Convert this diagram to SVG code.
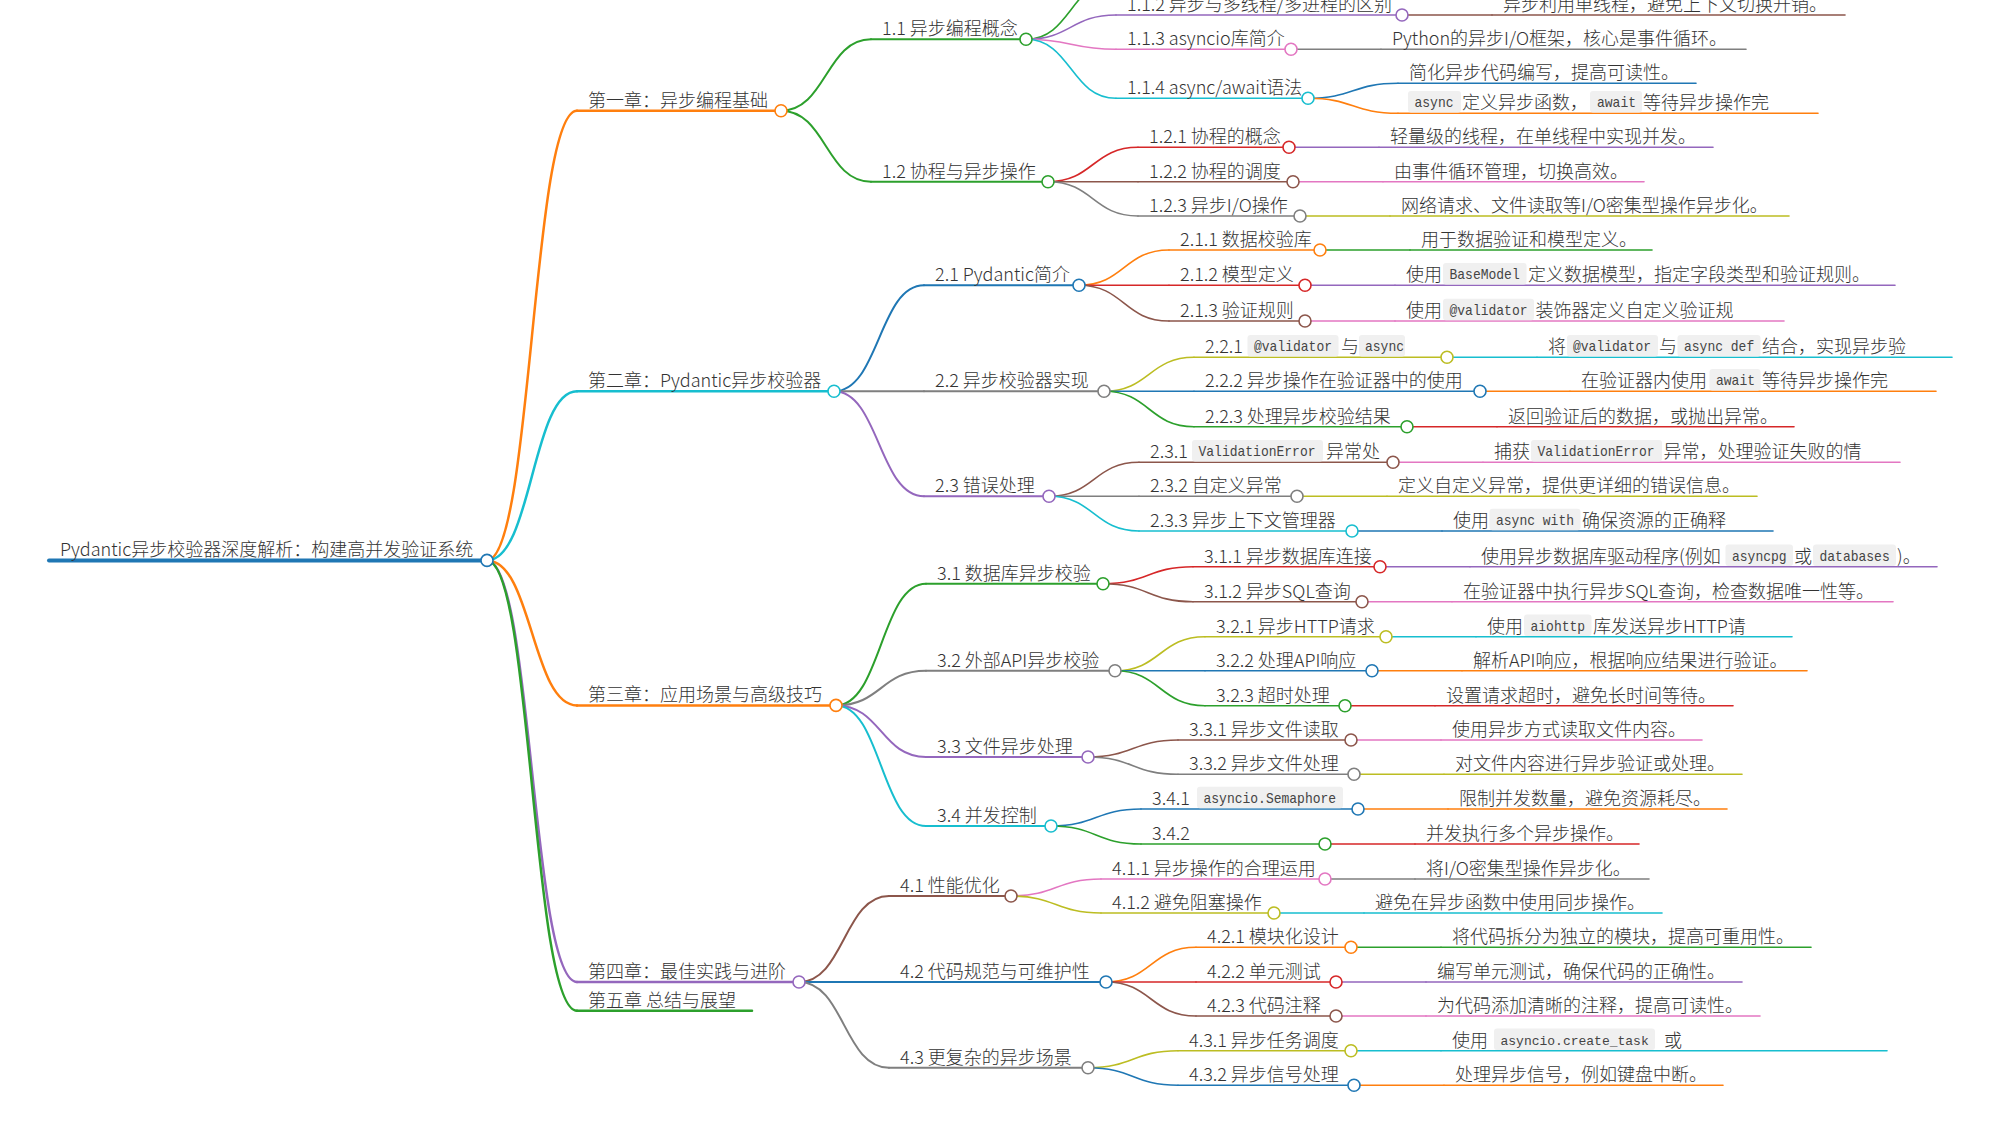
<svg xmlns="http://www.w3.org/2000/svg" width="2000" height="1125" viewBox="0 0 2000 1125">
<style>
.ln{fill:none;stroke-linecap:round}
.d0{stroke-width:4}.d1{stroke-width:2.5}.d2{stroke-width:2}.d3{stroke-width:1.6}.d4{stroke-width:1.6}
.kb{stroke:#1f77b4}.ko{stroke:#ff7f0e}.kg{stroke:#2ca02c}.kr{stroke:#d62728}.kp{stroke:#9467bd}
.kn{stroke:#8c564b}.kk{stroke:#e377c2}.ky{stroke:#7f7f7f}.kl{stroke:#bcbd22}.kc{stroke:#17becf}
.dot{fill:#fff;stroke-width:1.6}
text{font-family:"Noto Sans CJK SC","Noto Sans",sans-serif;font-size:18px;font-weight:300;fill:#333}
text.code{font-family:"Liberation Mono",monospace;font-size:15px;font-weight:400;fill:#444}
text.code.sm{font-size:13px}
.cb{fill:#f0f0f0}
</style>
<rect width="2000" height="1125" fill="#fff"/>
<g id="connectors">
<path class="ln d1 ko" d="M487,560.4C532,560.4 532,110.7 577,110.7"/>
<path class="ln d1 kc" d="M487,560.4C532,560.4 532,391.3 577,391.3"/>
<path class="ln d1 ko" d="M487,560.4C532,560.4 532,705.4 577,705.4"/>
<path class="ln d1 kp" d="M487,560.4C532,560.4 532,982 577,982"/>
<path class="ln d1 kg" d="M487,560.4C532,560.4 532,1010.7 577,1010.7"/>
<path class="ln d2 kg" d="M781,110.7C826,110.7 826,39.3 871,39.3"/>
<path class="ln d2 kg" d="M781,110.7C826,110.7 826,181.7 871,181.7"/>
<path class="ln d2 kb" d="M834,391.3C879,391.3 879,285.3 924,285.3"/>
<path class="ln d2 ky" d="M834,391.3H924"/>
<path class="ln d2 kp" d="M834,391.3C879,391.3 879,496.3 924,496.3"/>
<path class="ln d2 kg" d="M836,705.4C881,705.4 881,583.7 926,583.7"/>
<path class="ln d2 ky" d="M836,705.4C881,705.4 881,670.8 926,670.8"/>
<path class="ln d2 kp" d="M836,705.4C881,705.4 881,757 926,757"/>
<path class="ln d2 kc" d="M836,705.4C881,705.4 881,826 926,826"/>
<path class="ln d2 kn" d="M799,982C844,982 844,896 889,896"/>
<path class="ln d2 kb" d="M799,982H889"/>
<path class="ln d2 ky" d="M799,982C844,982 844,1067.7 889,1067.7"/>
<path class="ln d3 kg" d="M1026,39.3C1071,39.3 1071,-20 1116,-20"/>
<path class="ln d3 kp" d="M1026,39.3C1071,39.3 1071,15 1116,15"/>
<path class="ln d3 kk" d="M1026,39.3C1071,39.3 1071,49.3 1116,49.3"/>
<path class="ln d3 kc" d="M1026,39.3C1071,39.3 1071,98.3 1116,98.3"/>
<path class="ln d3 kr" d="M1048,181.7C1093,181.7 1093,147.3 1138,147.3"/>
<path class="ln d3 kn" d="M1048,181.7H1138"/>
<path class="ln d3 ky" d="M1048,181.7C1093,181.7 1093,216 1138,216"/>
<path class="ln d3 ko" d="M1079,285.3C1124,285.3 1124,250 1169,250"/>
<path class="ln d3 kr" d="M1079,285.3H1169"/>
<path class="ln d3 kn" d="M1079,285.3C1124,285.3 1124,321 1169,321"/>
<path class="ln d3 kl" d="M1104,391.3C1149,391.3 1149,357.3 1194,357.3"/>
<path class="ln d3 kb" d="M1104,391.3H1194"/>
<path class="ln d3 kg" d="M1104,391.3C1149,391.3 1149,426.7 1194,426.7"/>
<path class="ln d3 kn" d="M1049,496.3C1094,496.3 1094,462.3 1139,462.3"/>
<path class="ln d3 ky" d="M1049,496.3H1139"/>
<path class="ln d3 kc" d="M1049,496.3C1094,496.3 1094,531 1139,531"/>
<path class="ln d3 kr" d="M1103,583.7C1148,583.7 1148,566.7 1193,566.7"/>
<path class="ln d3 kn" d="M1103,583.7C1148,583.7 1148,601.7 1193,601.7"/>
<path class="ln d3 kl" d="M1115,670.8C1160,670.8 1160,636.7 1205,636.7"/>
<path class="ln d3 kb" d="M1115,670.8H1205"/>
<path class="ln d3 kg" d="M1115,670.8C1160,670.8 1160,705.7 1205,705.7"/>
<path class="ln d3 kn" d="M1088,757C1133,757 1133,740 1178,740"/>
<path class="ln d3 ky" d="M1088,757C1133,757 1133,774.3 1178,774.3"/>
<path class="ln d3 kb" d="M1051,826C1096,826 1096,809 1141,809"/>
<path class="ln d3 kg" d="M1051,826C1096,826 1096,844 1141,844"/>
<path class="ln d3 kk" d="M1011,896C1056,896 1056,879 1101,879"/>
<path class="ln d3 kl" d="M1011,896C1056,896 1056,913 1101,913"/>
<path class="ln d3 ko" d="M1106,982C1151,982 1151,947.3 1196,947.3"/>
<path class="ln d3 kr" d="M1106,982H1196"/>
<path class="ln d3 kn" d="M1106,982C1151,982 1151,1016 1196,1016"/>
<path class="ln d3 kl" d="M1088,1067.7C1133,1067.7 1133,1050.7 1178,1050.7"/>
<path class="ln d3 kb" d="M1088,1067.7C1133,1067.7 1133,1085.3 1178,1085.3"/>
<path class="ln d4 kn" d="M1402,15H1492"/>
<path class="ln d4 ky" d="M1291,49.3H1381"/>
<path class="ln d4 kb" d="M1308,98.3C1353,98.3 1353,83.3 1398,83.3"/>
<path class="ln d4 ko" d="M1308,98.3C1353,98.3 1353,113.3 1398,113.3"/>
<path class="ln d4 kp" d="M1289,147.3H1379"/>
<path class="ln d4 kk" d="M1293,181.7H1383"/>
<path class="ln d4 kl" d="M1300,216H1390"/>
<path class="ln d4 kg" d="M1320,250H1410"/>
<path class="ln d4 kp" d="M1305,285.3H1395"/>
<path class="ln d4 kk" d="M1305,321H1395"/>
<path class="ln d4 kc" d="M1447,357.3H1537"/>
<path class="ln d4 ko" d="M1480,391.3H1570"/>
<path class="ln d4 kr" d="M1407,426.7H1497"/>
<path class="ln d4 kk" d="M1393,462.3H1483"/>
<path class="ln d4 kl" d="M1297,496.3H1387"/>
<path class="ln d4 kb" d="M1352,531H1442"/>
<path class="ln d4 kp" d="M1380,566.7H1470"/>
<path class="ln d4 kk" d="M1362,601.7H1452"/>
<path class="ln d4 kc" d="M1386,636.7H1476"/>
<path class="ln d4 ko" d="M1372,670.8H1462"/>
<path class="ln d4 kr" d="M1345,705.7H1435"/>
<path class="ln d4 kk" d="M1351,740H1441"/>
<path class="ln d4 kl" d="M1354,774.3H1444"/>
<path class="ln d4 ko" d="M1358,809H1448"/>
<path class="ln d4 kr" d="M1325,844H1415"/>
<path class="ln d4 ky" d="M1325,879H1415"/>
<path class="ln d4 kc" d="M1274,913H1364"/>
<path class="ln d4 kg" d="M1351,947.3H1441"/>
<path class="ln d4 kp" d="M1336,982H1426"/>
<path class="ln d4 kk" d="M1336,1016H1426"/>
<path class="ln d4 kc" d="M1351,1050.7H1441"/>
<path class="ln d4 ko" d="M1354,1085.3H1444"/>
</g>

<g id="root"><path class="ln d0 kb" d="M49,560.4H487"/><text x="60" y="556.4">Pydantic异步校验器深度解析：构建高并发验证系统</text><circle class="dot kb" cx="487" cy="560.4" r="6"/></g>

<g id="ch1"><path class="ln d1 ko" d="M577,110.7H781"/><text x="588" y="106.7">第一章：异步编程基础</text><circle class="dot ko" cx="781" cy="110.7" r="6"/></g>
<g id="ch2"><path class="ln d1 kc" d="M577,391.3H834"/><text x="588" y="387.3">第二章：Pydantic异步校验器</text><circle class="dot kc" cx="834" cy="391.3" r="6"/></g>
<g id="ch3"><path class="ln d1 ko" d="M577,705.4H836"/><text x="588" y="701.4">第三章：应用场景与高级技巧</text><circle class="dot ko" cx="836" cy="705.4" r="6"/></g>
<g id="ch4"><path class="ln d1 kp" d="M577,982H799"/><text x="588" y="978">第四章：最佳实践与进阶</text><circle class="dot kp" cx="799" cy="982" r="6"/></g>
<g id="ch5"><path class="ln d1 kg" d="M577,1010.7H752"/><text x="588" y="1006.7">第五章 总结与展望</text></g>

<g id="s1-1"><path class="ln d2 kg" d="M871,39.3H1026"/><text x="882" y="35.3">1.1 异步编程概念</text><circle class="dot kg" cx="1026" cy="39.3" r="6"/></g>
<g id="s1-2"><path class="ln d2 kg" d="M871,181.7H1048"/><text x="882" y="177.7">1.2 协程与异步操作</text><circle class="dot kg" cx="1048" cy="181.7" r="6"/></g>
<g id="s2-1"><path class="ln d2 kb" d="M924,285.3H1079"/><text x="935" y="281.3">2.1 Pydantic简介</text><circle class="dot kb" cx="1079" cy="285.3" r="6"/></g>
<g id="s2-2"><path class="ln d2 ky" d="M924,391.3H1104"/><text x="935" y="387.3">2.2 异步校验器实现</text><circle class="dot ky" cx="1104" cy="391.3" r="6"/></g>
<g id="s2-3"><path class="ln d2 kp" d="M924,496.3H1049"/><text x="935" y="492.3">2.3 错误处理</text><circle class="dot kp" cx="1049" cy="496.3" r="6"/></g>
<g id="s3-1"><path class="ln d2 kg" d="M926,583.7H1103"/><text x="937" y="579.7">3.1 数据库异步校验</text><circle class="dot kg" cx="1103" cy="583.7" r="6"/></g>
<g id="s3-2"><path class="ln d2 ky" d="M926,670.8H1115"/><text x="937" y="666.8">3.2 外部API异步校验</text><circle class="dot ky" cx="1115" cy="670.8" r="6"/></g>
<g id="s3-3"><path class="ln d2 kp" d="M926,757H1088"/><text x="937" y="753">3.3 文件异步处理</text><circle class="dot kp" cx="1088" cy="757" r="6"/></g>
<g id="s3-4"><path class="ln d2 kc" d="M926,826H1051"/><text x="937" y="822">3.4 并发控制</text><circle class="dot kc" cx="1051" cy="826" r="6"/></g>
<g id="s4-1"><path class="ln d2 kn" d="M889,896H1011"/><text x="900" y="892">4.1 性能优化</text><circle class="dot kn" cx="1011" cy="896" r="6"/></g>
<g id="s4-2"><path class="ln d2 kb" d="M889,982H1106"/><text x="900" y="978">4.2 代码规范与可维护性</text><circle class="dot kb" cx="1106" cy="982" r="6"/></g>
<g id="s4-3"><path class="ln d2 ky" d="M889,1067.7H1088"/><text x="900" y="1063.7">4.3 更复杂的异步场景</text><circle class="dot ky" cx="1088" cy="1067.7" r="6"/></g>

<g id="t1-1-2"><path class="ln d3 kp" d="M1116,15H1402"/><text x="1127" y="11">1.1.2 异步与多线程/多进程的区别</text><circle class="dot kp" cx="1402" cy="15" r="6"/></g>
<g id="t1-1-3"><path class="ln d3 kk" d="M1116,49.3H1291"/><text x="1127" y="45.3">1.1.3 asyncio库简介</text><circle class="dot kk" cx="1291" cy="49.3" r="6"/></g>
<g id="t1-1-4"><path class="ln d3 kc" d="M1116,98.3H1308"/><text x="1127" y="94.3">1.1.4 async/await语法</text><circle class="dot kc" cx="1308" cy="98.3" r="6"/></g>
<g id="t1-2-1"><path class="ln d3 kr" d="M1138,147.3H1289"/><text x="1149" y="143.3">1.2.1 协程的概念</text><circle class="dot kr" cx="1289" cy="147.3" r="6"/></g>
<g id="t1-2-2"><path class="ln d3 kn" d="M1138,181.7H1293"/><text x="1149" y="177.7">1.2.2 协程的调度</text><circle class="dot kn" cx="1293" cy="181.7" r="6"/></g>
<g id="t1-2-3"><path class="ln d3 ky" d="M1138,216H1300"/><text x="1149" y="212">1.2.3 异步I/O操作</text><circle class="dot ky" cx="1300" cy="216" r="6"/></g>
<g id="t2-1-1"><path class="ln d3 ko" d="M1169,250H1320"/><text x="1180" y="246">2.1.1 数据校验库</text><circle class="dot ko" cx="1320" cy="250" r="6"/></g>
<g id="t2-1-2"><path class="ln d3 kr" d="M1169,285.3H1305"/><text x="1180" y="281.3">2.1.2 模型定义</text><circle class="dot kr" cx="1305" cy="285.3" r="6"/></g>
<g id="t2-1-3"><path class="ln d3 kn" d="M1169,321H1305"/><text x="1180" y="317">2.1.3 验证规则</text><circle class="dot kn" cx="1305" cy="321" r="6"/></g>
<g id="t2-2-1"><path class="ln d3 kl" d="M1194,357.3H1447"/><text x="1205" y="353.3">2.2.1</text><rect class="cb" x="1247.5" y="335" width="91" height="21.5" rx="3"/><text class="code" x="1254" y="351.3" textLength="78" lengthAdjust="spacingAndGlyphs">@validator</text><text x="1341" y="353.3">与</text><rect class="cb" x="1359" y="335" width="46" height="21.5" rx="3"/><text class="code" x="1365" y="351.3" textLength="39" lengthAdjust="spacingAndGlyphs">async</text><circle class="dot kl" cx="1447" cy="357.3" r="6"/></g>
<g id="t2-2-2"><path class="ln d3 kb" d="M1194,391.3H1480"/><text x="1205" y="387.3">2.2.2 异步操作在验证器中的使用</text><circle class="dot kb" cx="1480" cy="391.3" r="6"/></g>
<g id="t2-2-3"><path class="ln d3 kg" d="M1194,426.7H1407"/><text x="1205" y="422.7">2.2.3 处理异步校验结果</text><circle class="dot kg" cx="1407" cy="426.7" r="6"/></g>
<g id="t2-3-1"><path class="ln d3 kn" d="M1139,462.3H1393"/><text x="1150" y="458.3">2.3.1</text><rect class="cb" x="1192" y="440" width="131" height="21.5" rx="3"/><text class="code" x="1198.5" y="456.3" textLength="117" lengthAdjust="spacingAndGlyphs">ValidationError</text><text x="1326" y="458.3">异常处</text><circle class="dot kn" cx="1393" cy="462.3" r="6"/></g>
<g id="t2-3-2"><path class="ln d3 ky" d="M1139,496.3H1297"/><text x="1150" y="492.3">2.3.2 自定义异常</text><circle class="dot ky" cx="1297" cy="496.3" r="6"/></g>
<g id="t2-3-3"><path class="ln d3 kc" d="M1139,531H1352"/><text x="1150" y="527">2.3.3 异步上下文管理器</text><circle class="dot kc" cx="1352" cy="531" r="6"/></g>
<g id="t3-1-1"><path class="ln d3 kr" d="M1193,566.7H1380"/><text x="1204" y="562.7">3.1.1 异步数据库连接</text><circle class="dot kr" cx="1380" cy="566.7" r="6"/></g>
<g id="t3-1-2"><path class="ln d3 kn" d="M1193,601.7H1362"/><text x="1204" y="597.7">3.1.2 异步SQL查询</text><circle class="dot kn" cx="1362" cy="601.7" r="6"/></g>
<g id="t3-2-1"><path class="ln d3 kl" d="M1205,636.7H1386"/><text x="1216" y="632.7">3.2.1 异步HTTP请求</text><circle class="dot kl" cx="1386" cy="636.7" r="6"/></g>
<g id="t3-2-2"><path class="ln d3 kb" d="M1205,670.8H1372"/><text x="1216" y="666.8">3.2.2 处理API响应</text><circle class="dot kb" cx="1372" cy="670.8" r="6"/></g>
<g id="t3-2-3"><path class="ln d3 kg" d="M1205,705.7H1345"/><text x="1216" y="701.7">3.2.3 超时处理</text><circle class="dot kg" cx="1345" cy="705.7" r="6"/></g>
<g id="t3-3-1"><path class="ln d3 kn" d="M1178,740H1351"/><text x="1189" y="736">3.3.1 异步文件读取</text><circle class="dot kn" cx="1351" cy="740" r="6"/></g>
<g id="t3-3-2"><path class="ln d3 ky" d="M1178,774.3H1354"/><text x="1189" y="770.3">3.3.2 异步文件处理</text><circle class="dot ky" cx="1354" cy="774.3" r="6"/></g>
<g id="t3-4-1"><path class="ln d3 kb" d="M1141,809H1358"/><text x="1152" y="805">3.4.1</text><rect class="cb" x="1197" y="786.7" width="146" height="21.5" rx="3"/><text class="code" x="1203.5" y="803" textLength="132.6" lengthAdjust="spacingAndGlyphs">asyncio.Semaphore</text><circle class="dot kb" cx="1358" cy="809" r="6"/></g>
<g id="t3-4-2"><path class="ln d3 kg" d="M1141,844H1325"/><text x="1152" y="840">3.4.2</text><circle class="dot kg" cx="1325" cy="844" r="6"/></g>
<g id="t4-1-1"><path class="ln d3 kk" d="M1101,879H1325"/><text x="1112" y="875">4.1.1 异步操作的合理运用</text><circle class="dot kk" cx="1325" cy="879" r="6"/></g>
<g id="t4-1-2"><path class="ln d3 kl" d="M1101,913H1274"/><text x="1112" y="909">4.1.2 避免阻塞操作</text><circle class="dot kl" cx="1274" cy="913" r="6"/></g>
<g id="t4-2-1"><path class="ln d3 ko" d="M1196,947.3H1351"/><text x="1207" y="943.3">4.2.1 模块化设计</text><circle class="dot ko" cx="1351" cy="947.3" r="6"/></g>
<g id="t4-2-2"><path class="ln d3 kr" d="M1196,982H1336"/><text x="1207" y="978">4.2.2 单元测试</text><circle class="dot kr" cx="1336" cy="982" r="6"/></g>
<g id="t4-2-3"><path class="ln d3 kn" d="M1196,1016H1336"/><text x="1207" y="1012">4.2.3 代码注释</text><circle class="dot kn" cx="1336" cy="1016" r="6"/></g>
<g id="t4-3-1"><path class="ln d3 kl" d="M1178,1050.7H1351"/><text x="1189" y="1046.7">4.3.1 异步任务调度</text><circle class="dot kl" cx="1351" cy="1050.7" r="6"/></g>
<g id="t4-3-2"><path class="ln d3 kb" d="M1178,1085.3H1354"/><text x="1189" y="1081.3">4.3.2 异步信号处理</text><circle class="dot kb" cx="1354" cy="1085.3" r="6"/></g>

<g id="l1-1-2"><path class="ln d4 kn" d="M1492,15H1845"/><text x="1503" y="11">异步利用单线程，避免上下文切换开销。</text></g>
<g id="l1-1-3"><path class="ln d4 ky" d="M1381,49.3H1746"/><text x="1392" y="45.3">Python的异步I/O框架，核心是事件循环。</text></g>
<g id="l1-1-4a"><path class="ln d4 kb" d="M1398,83.3H1696"/><text x="1409" y="79.3">简化异步代码编写，提高可读性。</text></g>
<g id="l1-1-4b"><path class="ln d4 ko" d="M1398,113.3H1818"/><rect class="cb" x="1408" y="91" width="53" height="21.5" rx="3"/><text class="code" x="1414.5" y="107.3" textLength="39" lengthAdjust="spacingAndGlyphs">async</text><text x="1462" y="109.3">定义异步函数，</text><rect class="cb" x="1590" y="91" width="52" height="21.5" rx="3"/><text class="code" x="1597" y="107.3" textLength="39" lengthAdjust="spacingAndGlyphs">await</text><text x="1643" y="109.3">等待异步操作完</text></g>
<g id="l1-2-1"><path class="ln d4 kp" d="M1379,147.3H1713"/><text x="1390" y="143.3">轻量级的线程，在单线程中实现并发。</text></g>
<g id="l1-2-2"><path class="ln d4 kk" d="M1383,181.7H1644"/><text x="1394" y="177.7">由事件循环管理，切换高效。</text></g>
<g id="l1-2-3"><path class="ln d4 kl" d="M1390,216H1789"/><text x="1401" y="212">网络请求、文件读取等I/O密集型操作异步化。</text></g>
<g id="l2-1-1"><path class="ln d4 kg" d="M1410,250H1652"/><text x="1421" y="246">用于数据验证和模型定义。</text></g>
<g id="l2-1-2"><path class="ln d4 kp" d="M1395,285.3H1895"/><text x="1406" y="281.3">使用</text><rect class="cb" x="1443" y="263" width="83.5" height="21.5" rx="3"/><text class="code" x="1449.5" y="279.3" textLength="70.2" lengthAdjust="spacingAndGlyphs">BaseModel</text><text x="1528" y="281.3">定义数据模型，指定字段类型和验证规则。</text></g>
<g id="l2-1-3"><path class="ln d4 kk" d="M1395,321H1784"/><text x="1406" y="317">使用</text><rect class="cb" x="1443" y="298.7" width="91" height="21.5" rx="3"/><text class="code" x="1449.5" y="315" textLength="78" lengthAdjust="spacingAndGlyphs">@validator</text><text x="1535.5" y="317">装饰器定义自定义验证规</text></g>
<g id="l2-2-1"><path class="ln d4 kc" d="M1537,357.3H1952"/><text x="1548" y="353.3">将</text><rect class="cb" x="1567" y="335" width="91" height="21.5" rx="3"/><text class="code" x="1573" y="351.3" textLength="78" lengthAdjust="spacingAndGlyphs">@validator</text><text x="1659" y="353.3">与</text><rect class="cb" x="1677.5" y="335" width="83" height="21.5" rx="3"/><text class="code" x="1684" y="351.3" textLength="70.2" lengthAdjust="spacingAndGlyphs">async def</text><text x="1762" y="353.3">结合，实现异步验</text></g>
<g id="l2-2-2"><path class="ln d4 ko" d="M1570,391.3H1936"/><text x="1581" y="387.3">在验证器内使用</text><rect class="cb" x="1709.5" y="369" width="51" height="21.5" rx="3"/><text class="code" x="1716" y="385.3" textLength="39" lengthAdjust="spacingAndGlyphs">await</text><text x="1762" y="387.3">等待异步操作完</text></g>
<g id="l2-2-3"><path class="ln d4 kr" d="M1497,426.7H1794"/><text x="1508" y="422.7">返回验证后的数据，或抛出异常。</text></g>
<g id="l2-3-1"><path class="ln d4 kk" d="M1483,462.3H1900"/><text x="1494" y="458.3">捕获</text><rect class="cb" x="1531" y="440" width="131" height="21.5" rx="3"/><text class="code" x="1537.5" y="456.3" textLength="117" lengthAdjust="spacingAndGlyphs">ValidationError</text><text x="1663.5" y="458.3">异常，处理验证失败的情</text></g>
<g id="l2-3-2"><path class="ln d4 kl" d="M1387,496.3H1757"/><text x="1398" y="492.3">定义自定义异常，提供更详细的错误信息。</text></g>
<g id="l2-3-3"><path class="ln d4 kb" d="M1442,531H1773"/><text x="1453" y="527">使用</text><rect class="cb" x="1489.5" y="508.7" width="91" height="21.5" rx="3"/><text class="code" x="1496" y="525" textLength="78" lengthAdjust="spacingAndGlyphs">async with</text><text x="1582" y="527">确保资源的正确释</text></g>
<g id="l3-1-1"><path class="ln d4 kp" d="M1470,566.7H1937"/><text x="1481" y="562.7">使用异步数据库驱动程序(例如</text><rect class="cb" x="1725.5" y="544.4" width="67.5" height="21.5" rx="3"/><text class="code" x="1732" y="560.7" textLength="54.6" lengthAdjust="spacingAndGlyphs">asyncpg</text><text x="1794" y="562.7">或</text><rect class="cb" x="1813" y="544.4" width="83" height="21.5" rx="3"/><text class="code" x="1819.5" y="560.7" textLength="70.2" lengthAdjust="spacingAndGlyphs">databases</text><text x="1897" y="562.7">)。</text></g>
<g id="l3-1-2"><path class="ln d4 kk" d="M1452,601.7H1893"/><text x="1463" y="597.7">在验证器中执行异步SQL查询，检查数据唯一性等。</text></g>
<g id="l3-2-1"><path class="ln d4 kc" d="M1476,636.7H1792"/><text x="1487" y="632.7">使用</text><rect class="cb" x="1524" y="614.4" width="67.5" height="21.5" rx="3"/><text class="code" x="1530.5" y="630.7" textLength="54.6" lengthAdjust="spacingAndGlyphs">aiohttp</text><text x="1593" y="632.7">库发送异步HTTP请</text></g>
<g id="l3-2-2"><path class="ln d4 ko" d="M1462,670.8H1807"/><text x="1473" y="666.8">解析API响应，根据响应结果进行验证。</text></g>
<g id="l3-2-3"><path class="ln d4 kr" d="M1435,705.7H1733"/><text x="1446" y="701.7">设置请求超时，避免长时间等待。</text></g>
<g id="l3-3-1"><path class="ln d4 kk" d="M1441,740H1702"/><text x="1452" y="736">使用异步方式读取文件内容。</text></g>
<g id="l3-3-2"><path class="ln d4 kl" d="M1444,774.3H1742"/><text x="1455" y="770.3">对文件内容进行异步验证或处理。</text></g>
<g id="l3-4-1"><path class="ln d4 ko" d="M1448,809H1727"/><text x="1459" y="805">限制并发数量，避免资源耗尽。</text></g>
<g id="l3-4-2"><path class="ln d4 kr" d="M1415,844H1639"/><text x="1426" y="840">并发执行多个异步操作。</text></g>
<g id="l4-1-1"><path class="ln d4 ky" d="M1415,879H1649"/><text x="1426" y="875">将I/O密集型操作异步化。</text></g>
<g id="l4-1-2"><path class="ln d4 kc" d="M1364,913H1662"/><text x="1375" y="909">避免在异步函数中使用同步操作。</text></g>
<g id="l4-2-1"><path class="ln d4 kg" d="M1441,947.3H1811"/><text x="1452" y="943.3">将代码拆分为独立的模块，提高可重用性。</text></g>
<g id="l4-2-2"><path class="ln d4 kp" d="M1426,982H1742"/><text x="1437" y="978">编写单元测试，确保代码的正确性。</text></g>
<g id="l4-2-3"><path class="ln d4 kk" d="M1426,1016H1760"/><text x="1437" y="1012">为代码添加清晰的注释，提高可读性。</text></g>
<g id="l4-3-1"><path class="ln d4 kc" d="M1441,1050.7H1887"/><text x="1452" y="1046.7">使用</text><rect class="cb" x="1494" y="1028.4" width="161" height="21.5" rx="3"/><text class="code sm" x="1500.5" y="1044.7">asyncio.create_task</text><text x="1664" y="1046.7">或</text></g>
<g id="l4-3-2"><path class="ln d4 ko" d="M1444,1085.3H1723"/><text x="1455" y="1081.3">处理异步信号，例如键盘中断。</text></g>
</svg>
